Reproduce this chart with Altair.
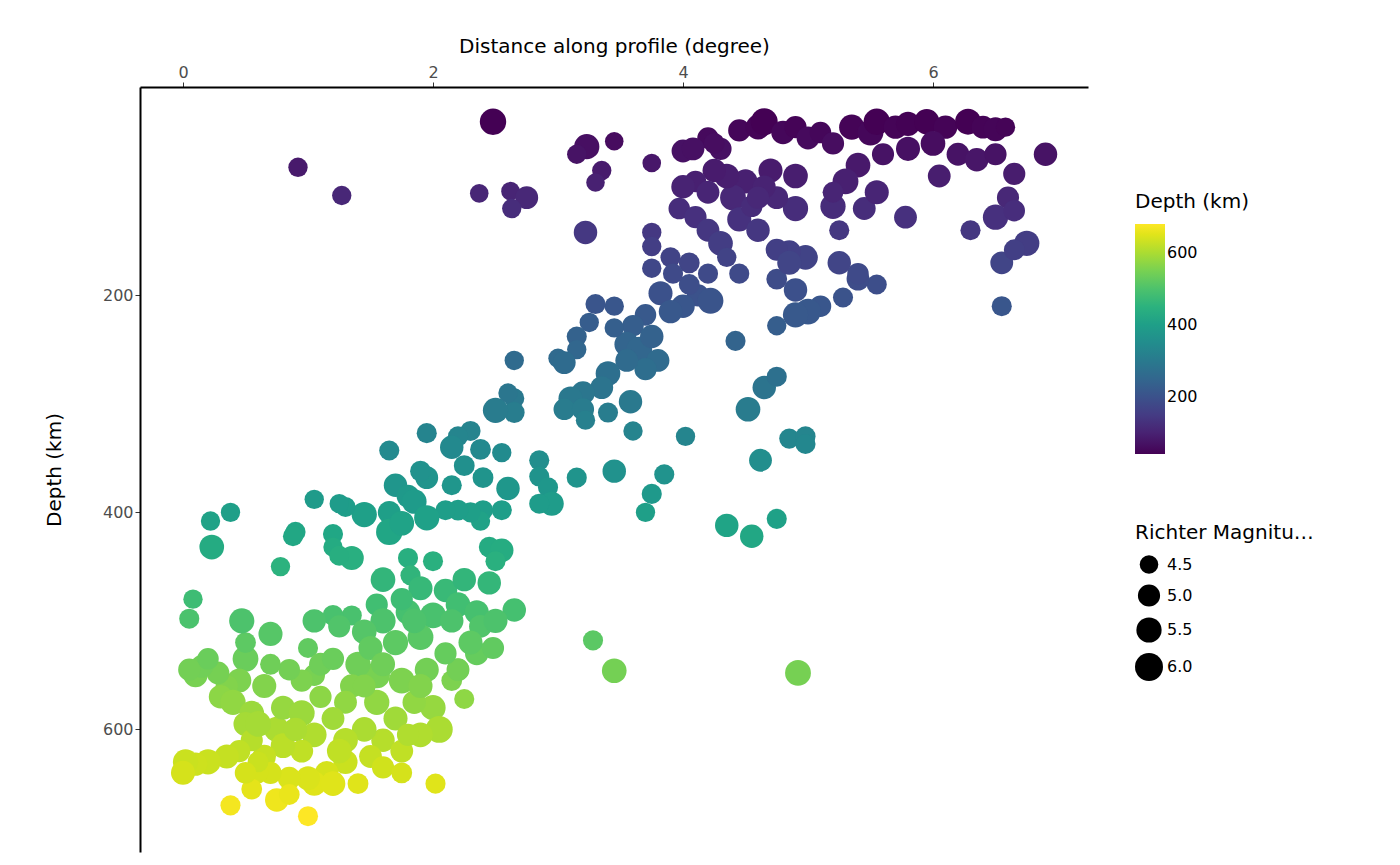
import altair as alt
import pandas as pd

# (distance, depth, magnitude)
pts = [
(2.48,40,5.7),(0.92,82,4.6),(1.27,108,4.6),(2.37,106,4.5),(2.62,104,4.5),(2.75,110,5.1),(2.63,120,4.6),
(3.23,63,5.5),(3.15,70,4.6),(3.35,85,4.6),(3.3,96,4.5),(3.45,58,4.5),(3.75,78,4.5),(3.22,142,5.2),
(4.0,67,5.1),(4.2,55,4.9),(4.3,65,5.0),(4.45,48,5.0),(4.6,45,5.4),(4.65,40,5.8),(4.8,50,5.2),(4.9,45,5.0),
(5.0,55,5.1),(5.1,50,4.9),(5.2,60,5.0),(5.35,45,5.5),(5.5,50,5.6),(5.55,40,5.7),(5.7,45,5.2),(5.8,42,5.3),
(5.95,40,5.5),(6.1,45,5.2),(6.28,40,5.6),(6.4,45,5.1),(6.5,47,5.3),(6.58,45,4.6),(6.9,70,5.2),(6.0,60,5.4),
(6.2,70,5.1),(6.35,75,5.2),(6.5,70,5.0),(6.65,88,5.0),(6.6,110,5.0),(6.5,128,5.5),(6.65,122,4.9),
(6.55,170,5.1),(6.55,210,4.7),(6.75,152,5.5),(6.65,158,4.8),(6.3,140,4.7),(6.05,90,5.1),(5.8,65,5.3),
(5.6,70,5.0),(5.4,80,5.4),(5.3,95,5.6),(5.2,118,5.5),(5.45,120,5.1),(5.55,105,5.3),(5.78,128,5.1),
(5.2,105,4.8),(5.25,140,4.7),(5.55,190,4.7),(5.4,185,5.1),(5.4,180,4.9),(5.25,170,5.2),(5.28,202,4.7),
(5.1,210,4.9),(5.0,215,5.6),(4.9,218,5.5),(4.9,195,5.2),(4.98,165,5.4),(4.85,160,5.2),(4.75,158,5.0),
(4.75,185,4.8),(4.75,228,4.6),(4.85,170,5.3),(4.9,120,5.5),(4.9,90,5.4),(4.75,110,5.1),(4.7,85,5.3),
(4.5,95,5.3),(4.4,110,5.6),(4.35,90,5.4),(4.25,85,5.2),(4.1,95,4.9),(4.0,100,5.2),(3.97,120,4.9),
(4.1,128,5.0),(4.2,140,5.1),(4.3,152,5.4),(4.45,130,5.3),(4.6,140,5.2),(4.65,100,5.1),(4.55,118,4.9),
(4.2,105,5.1),(4.08,65,5.1),(4.25,60,4.8),(4.6,110,5.0),(4.35,165,4.6),(4.45,180,4.7),(4.2,180,4.7),
(4.12,200,5.0),(4.22,205,5.6),(4.0,210,5.2),(4.05,170,4.8),(4.05,190,4.8),(3.9,165,4.7),(3.92,180,4.7),
(3.75,142,4.6),(3.75,155,4.6),(3.75,175,4.6),(3.82,198,5.3),(3.9,215,5.2),(3.7,218,4.9),(3.6,228,4.9),
(3.55,245,5.4),(3.65,250,5.6),(3.75,238,5.2),(3.8,260,5.1),(3.7,268,5.0),(3.55,260,5.1),(3.45,210,4.6),
(3.45,230,4.6),(3.3,208,4.7),(3.25,225,4.6),(3.15,238,4.7),(3.15,250,4.6),(3.0,258,4.6),(3.05,262,5.1),
(3.4,272,5.4),(3.35,285,5.1),(3.2,290,5.2),(3.1,295,5.3),(3.05,305,4.9),(3.2,305,5.0),(3.22,315,4.6),
(3.4,308,4.7),(3.58,298,5.2),(3.6,325,4.6),(3.45,362,5.2),(3.75,383,4.7),(3.85,365,4.7),(3.7,400,4.6),
(4.02,330,4.6),(4.35,412,5.2),(4.55,422,5.2),(4.52,305,5.4),(4.65,285,5.2),(4.75,275,4.7),(4.42,242,4.7),
(4.62,352,5.1),(4.85,332,4.7),(4.98,330,4.7),(4.98,337,4.7),(4.75,406,4.7),(4.92,548,5.6),(3.45,546,5.4),
(3.28,518,4.7),(2.65,490,5.2),(2.85,352,4.7),(2.85,367,4.7),(2.92,377,4.7),(2.95,392,5.3),(3.15,368,4.7),
(2.85,392,4.7),(2.65,295,4.7),(2.65,308,4.8),(2.5,306,5.5),(2.6,290,4.6),(2.65,260,4.6),(2.3,325,4.7),
(2.2,330,4.7),(2.15,340,5.2),(2.25,357,4.8),(2.38,342,4.8),(2.55,345,4.6),(2.4,368,4.8),(2.6,378,5.2),
(2.55,398,4.7),(2.4,398,4.7),(2.38,408,4.6),(2.3,400,4.7),(2.2,398,4.8),(2.1,398,4.7),(2.15,375,4.7),
(1.95,368,5.1),(1.9,362,4.8),(1.95,327,4.7),(1.65,343,4.7),(1.7,375,5.2),(1.8,385,5.1),(1.85,390,5.4),
(1.95,405,5.5),(1.65,400,5.1),(1.45,402,5.5),(1.65,418,5.7),(1.75,410,5.4),(1.3,395,4.7),(1.25,392,4.6),
(1.05,388,4.6),(0.9,418,4.7),(0.88,422,4.7),(1.2,420,4.7),(1.2,432,4.6),(1.35,442,5.3),(1.25,440,4.7),
(1.8,442,4.7),(2.0,445,4.7),(1.82,458,4.7),(1.6,462,5.4),(1.9,470,5.3),(2.1,472,5.2),(2.25,462,5.2),
(2.45,465,5.2),(2.45,432,4.8),(2.55,435,5.2),(2.5,445,4.7),(2.2,485,5.4),(2.35,492,5.3),(2.0,495,5.6),
(1.8,492,5.4),(1.55,485,5.0),(1.6,500,5.5),(1.35,495,4.7),(1.2,495,4.8),(1.05,500,5.2),(1.25,505,5.0),
(1.45,510,5.4),(1.7,520,5.5),(1.9,515,5.6),(2.15,500,5.2),(2.38,505,5.1),(2.35,530,5.2),(2.2,545,5.0),
(2.15,555,4.8),(2.25,572,4.7),(1.95,545,5.3),(2.0,580,5.5),(2.05,600,5.8),(1.9,605,5.4),(1.75,555,5.6),
(1.55,550,5.7),(1.4,540,5.5),(1.35,560,5.2),(1.3,575,5.1),(1.55,575,5.5),(1.7,590,5.3),(1.85,575,5.2),
(1.6,610,5.2),(1.45,600,5.4),(1.3,610,5.4),(1.2,590,5.1),(1.1,570,5.0),(1.05,550,4.9),(1.0,525,4.7),
(1.1,540,5.1),(0.95,555,5.0),(0.85,545,4.9),(0.7,540,4.8),(0.65,560,5.3),(0.5,535,5.6),(0.45,555,5.3),
(0.5,520,4.8),(0.47,500,5.5),(0.7,512,5.3),(0.35,560,5.0),(0.28,548,5.1),(0.3,570,5.2),(0.4,575,5.5),
(0.55,585,5.4),(0.5,595,5.3),(0.75,600,5.5),(0.8,580,5.3),(0.95,585,5.6),(1.05,605,5.4),(0.95,620,5.1),
(0.8,615,5.4),(0.65,625,5.2),(0.55,610,5.0),(0.45,620,5.0),(0.35,625,5.3),(0.2,630,5.5),(0.1,632,5.2),
(0.02,630,5.5),(0.0,640,5.3),(0.1,550,5.3),(0.15,542,5.1),(0.2,535,4.9),(0.05,545,5.0),(0.05,498,4.7),
(0.08,480,4.6),(0.22,408,4.6),(0.38,400,4.6),(0.23,432,5.4),(0.78,450,4.6),(1.5,625,5.1),(1.3,630,5.3),
(1.15,640,5.2),(1.05,650,5.3),(1.0,645,5.3),(0.85,645,5.1),(0.7,640,5.0),(0.6,640,4.8),(0.55,655,4.8),
(0.75,665,5.2),(0.85,660,4.8),(0.6,630,4.8),(0.38,670,4.7),(0.5,640,4.9),(1.0,680,4.7),(2.02,650,4.7),
(1.75,620,5.1),(1.8,605,5.0),(2.2,545,5.1),(2.1,530,5.0),(2.3,520,5.3),(2.5,500,5.3),(2.48,525,5.0),
(1.75,480,5.0),(1.85,500,5.4),(1.5,525,5.3),(1.2,535,5.0),(1.6,540,5.3),(1.45,560,5.1),(1.9,560,5.3),
(1.25,620,5.4),(1.4,650,4.8),(1.2,650,5.4),(1.6,635,5.0),(1.75,640,4.8),(0.9,600,5.2),(0.6,595,5.6),
]
distance = [p[0] for p in pts]
depth = [p[1] for p in pts]
mag = [p[2] for p in pts]

df = pd.DataFrame({"distance": distance, "depth": depth, "mag": mag})

chart = alt.Chart(df).mark_circle(opacity=1).encode(
    x=alt.X("distance:Q", title="Distance along profile (degree)",
            scale=alt.Scale(domain=[-0.344, 7.24], nice=False, zero=False),
            axis=alt.Axis(orient="top", values=[0, 2, 4, 6], grid=False)),
    y=alt.Y("depth:Q", title="Depth (km)",
            scale=alt.Scale(domain=[8, 713], reverse=True, nice=False, zero=False),
            axis=alt.Axis(values=[200, 400, 600], grid=False, titlePadding=38)),
    color=alt.Color("depth:Q", title="Depth (km)",
                    scale=alt.Scale(scheme="viridis", domain=[40, 680]),
                    legend=alt.Legend(values=[200, 400, 600], gradientLength=230,
                                      gradientThickness=30, direction="vertical",
                                      orient="none", legendX=995, legendY=105)),
    size=alt.Size("mag:Q", title="Richter Magnitude",
                  scale=alt.Scale(domain=[4.0, 6.4], range=[200, 900]),
                  legend=alt.Legend(values=[4.5, 5.0, 5.5, 6.0], symbolFillColor="black",
                                    symbolStrokeWidth=0, orient="none",
                                    legendX=995, legendY=436)),
).properties(
    width=948, height=765, padding={"left": 36, "top": 28, "right": 5, "bottom": 5}
).configure_view(stroke=None).configure_axis(
    domainColor="black", domainWidth=2, tickColor="#333", labelFont="DejaVu Sans",
    titleFont="DejaVu Sans", labelFontSize=16, titleFontSize=20, titleFontWeight="normal",
    labelColor="#4d4d4d", titleColor="black", titlePadding=8
).configure_legend(
    titleFont="DejaVu Sans", labelFont="DejaVu Sans", titleFontSize=20, labelFontSize=16,
    titleFontWeight="normal", rowPadding=10, titlePadding=12
)

chart.save("out.html", embed_options={"renderer": "svg", "actions": False})
